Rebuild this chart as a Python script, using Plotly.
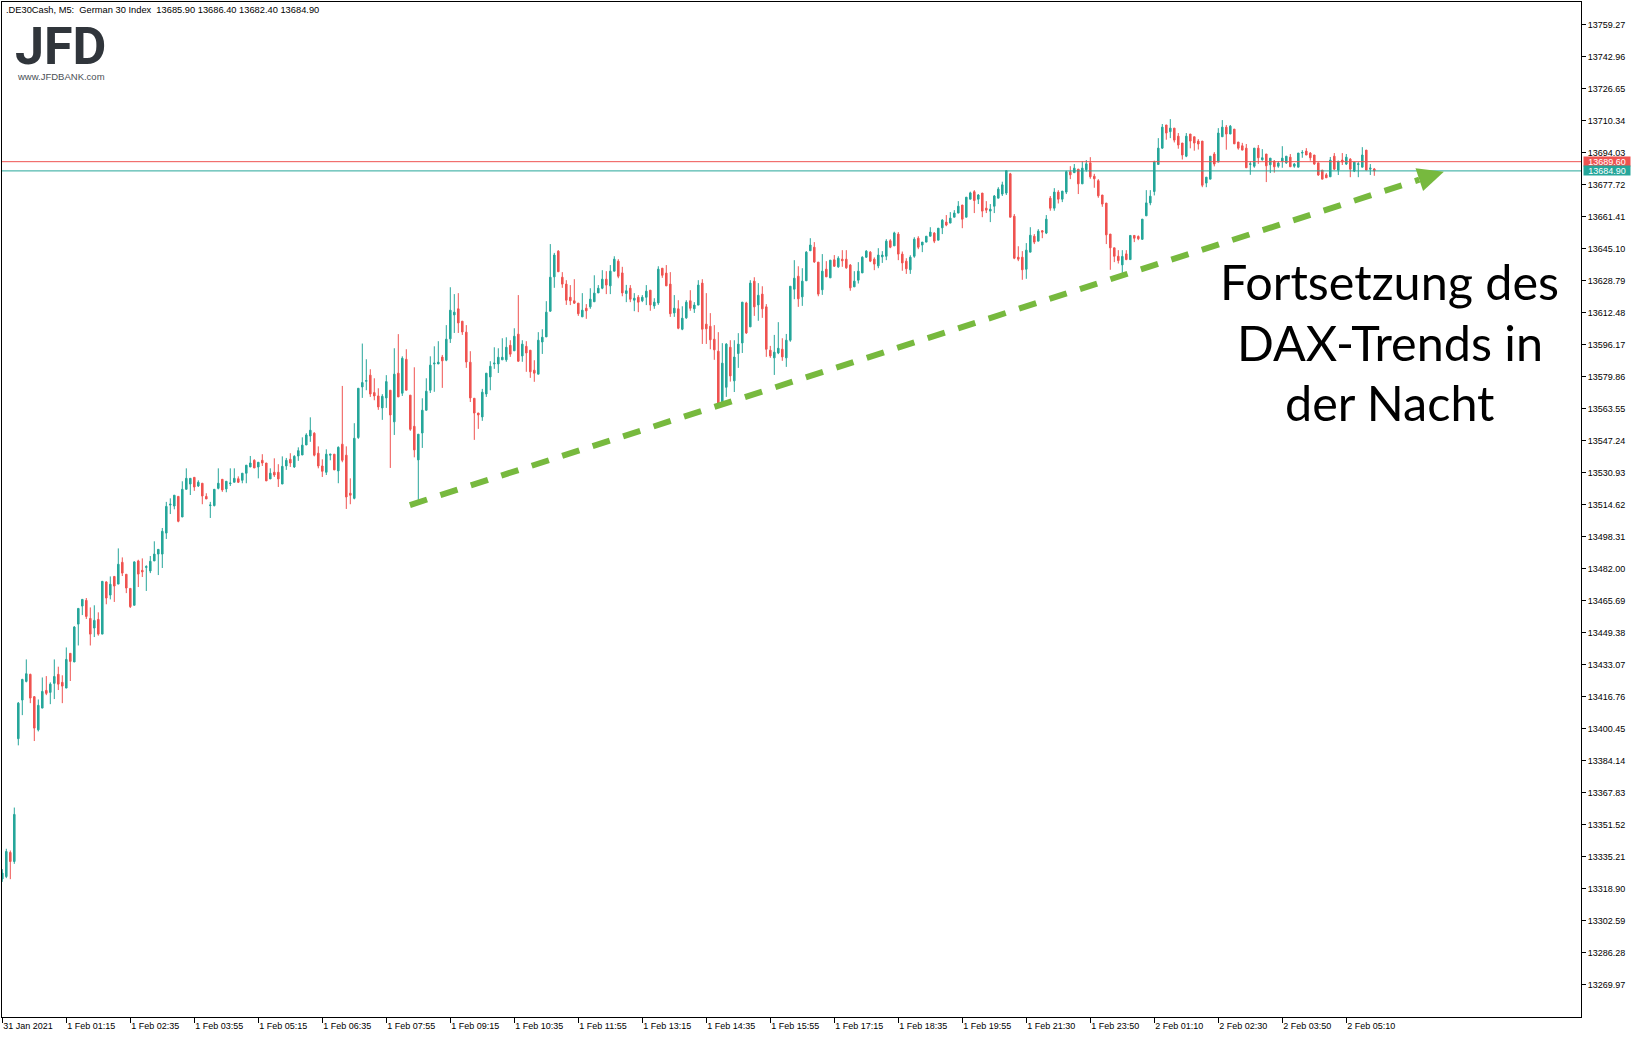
import plotly.graph_objects as go

# ---------------- data (M5 candles, .DE30Cash, 31 Jan 23:55 -> 2 Feb 05:40) ----------------
open_ = [
13324.0,13325.2,13337.5,13332.9,13395.5,13415.2,13424.7,13428.3,13416.9,13400.0,
13411.1,13420.1,13419.1,13423.7,13428.3,13424.2,13421.3,13439.0,13434.6,13453.9,
13463.1,13466.0,13456.8,13451.9,13456.3,13448.8,13475.4,13468.7,13478.2,13474.3,
13485.4,13479.3,13472.1,13463.5,13486.1,13481.3,13482.8,13481.0,13486.1,13489.6,
13489.6,13500.3,13514.6,13514.1,13519.0,13508.5,13522.6,13525.3,13528.7,13524.3,
13525.7,13519.0,13514.3,13514.3,13523.1,13527.7,13522.8,13525.5,13526.2,13528.0,
13527.2,13530.8,13534.0,13537.4,13534.0,13537.4,13536.0,13527.9,13531.3,13531.3,
13525.3,13534.5,13537.9,13534.0,13539.6,13540.1,13545.2,13549.8,13551.2,13541.0,
13534.5,13531.3,13540.0,13540.5,13532.0,13545.6,13540.0,13520.6,13518.0,13549.0,
13574.8,13577.7,13580.8,13571.9,13570.2,13564.1,13569.2,13573.1,13557.0,13581.8,
13571.6,13588.9,13570.6,13554.7,13537.6,13551.3,13562.9,13573.1,13586.5,13586.5,
13590.0,13588.4,13599.3,13611.5,13614.6,13608.3,13602.7,13587.4,13569.0,13561.5,
13559.5,13571.2,13579.9,13586.5,13586.5,13588.6,13588.6,13596.0,13593.2,13601.7,
13590.6,13595.5,13593.5,13583.3,13581.3,13597.7,13600.3,13613.4,13630.9,13644.0,
13630.7,13627.2,13620.5,13618.7,13617.5,13610.5,13614.9,13615.6,13618.2,13622.7,
13625.1,13629.7,13626.3,13633.8,13638.9,13632.9,13622.4,13625.1,13619.0,13620.5,
13618.7,13620.5,13624.1,13616.1,13617.6,13635.3,13632.8,13627.2,13612.5,13614.6,
13604.2,13610.0,13618.7,13614.6,13616.5,13627.7,13606.8,13605.7,13599.1,13593.0,
13567.2,13574.6,13595.0,13577.9,13591.8,13597.2,13617.6,13605.4,13628.7,13616.6,
13622.1,13615.6,13593.5,13589.6,13592.1,13594.0,13589.6,13598.6,13624.6,13631.2,
13620.7,13628.9,13644.2,13646.0,13638.4,13624.3,13634.8,13630.4,13639.6,13636.0,
13639.9,13639.9,13636.9,13625.8,13629.2,13632.9,13640.9,13643.5,13639.9,13636.5,
13641.1,13641.4,13649.3,13646.7,13652.7,13642.5,13638.9,13634.5,13641.4,13650.6,
13647.1,13648.6,13651.6,13653.2,13649.6,13655.9,13658.8,13658.3,13661.3,13663.4,
13667.5,13661.3,13670.5,13674.3,13670.5,13673.6,13665.9,13664.4,13666.9,13671.0,
13673.1,13673.6,13683.4,13661.8,13640.9,13640.9,13634.8,13643.5,13651.6,13649.1,
13654.4,13653.2,13671.0,13665.9,13674.1,13670.5,13674.1,13684.5,13684.0,13685.8,
13678.3,13685.5,13689.0,13682.2,13679.9,13672.6,13668.5,13652.7,13645.7,13641.4,
13637.0,13642.6,13639.7,13652.0,13651.5,13650.0,13662.0,13668.6,13674.4,13688.2,
13696.5,13708.3,13704.9,13706.7,13702.6,13699.1,13692.4,13703.7,13702.3,13700.1,
13700.1,13678.7,13680.7,13693.5,13689.4,13702.3,13707.2,13703.7,13706.2,13699.6,
13697.7,13696.5,13688.2,13687.3,13696.5,13690.6,13693.5,13688.0,13689.9,13687.3,
13689.9,13689.0,13691.9,13687.3,13686.8,13694.0,13695.0,13694.0,13693.0,13689.0,
13685.3,13682.9,13681.9,13692.4,13685.3,13690.4,13688.4,13690.9,13684.8,13688.2,
13686.8,13695.5,13685.8,13685.9]
high = [
13329.0,13339.4,13338.5,13360.4,13414.2,13426.0,13435.9,13428.6,13417.2,13415.5,
13426.7,13427.4,13424.2,13435.9,13432.2,13427.8,13442.0,13439.0,13452.9,13461.9,
13466.5,13467.2,13462.4,13463.5,13459.9,13475.7,13475.7,13478.2,13478.2,13492.5,
13487.9,13479.3,13472.1,13485.9,13486.7,13487.4,13483.9,13488.6,13496.1,13492.0,
13502.9,13516.2,13518.0,13519.6,13519.0,13526.7,13533.3,13528.2,13528.7,13527.2,
13525.7,13520.6,13516.2,13522.6,13533.3,13527.7,13526.7,13533.3,13533.3,13529.2,
13530.8,13534.9,13539.6,13537.9,13536.4,13540.5,13536.0,13533.3,13538.4,13535.4,
13539.4,13538.6,13541.0,13540.0,13544.0,13549.1,13551.2,13559.3,13551.7,13544.5,
13537.9,13543.0,13540.5,13540.5,13544.5,13575.3,13544.5,13528.2,13556.3,13574.1,
13596.9,13588.9,13583.8,13579.2,13574.1,13571.1,13580.8,13573.1,13594.5,13601.7,
13590.4,13594.0,13570.6,13584.8,13550.7,13569.0,13579.2,13590.4,13595.5,13598.1,
13591.1,13606.3,13625.6,13622.1,13622.6,13608.3,13606.3,13593.0,13569.0,13561.5,
13573.8,13581.8,13587.9,13595.0,13594.5,13599.6,13600.1,13598.6,13604.7,13621.6,
13598.6,13598.1,13593.5,13588.4,13602.7,13604.2,13618.5,13647.6,13643.1,13644.5,
13633.3,13629.2,13626.7,13629.7,13617.5,13622.6,13617.0,13625.1,13631.7,13626.7,
13634.3,13633.8,13636.9,13641.4,13639.9,13636.0,13626.8,13626.7,13622.6,13621.6,
13621.6,13626.7,13624.1,13620.0,13636.3,13635.3,13636.9,13633.3,13621.6,13619.0,
13615.9,13619.0,13624.1,13618.0,13629.2,13629.7,13622.6,13612.4,13606.3,13602.7,
13597.1,13597.1,13598.6,13598.6,13602.2,13618.0,13618.2,13629.2,13630.7,13627.7,
13626.1,13617.0,13595.7,13601.3,13607.8,13599.6,13601.8,13626.1,13639.4,13636.3,
13635.3,13644.0,13650.6,13648.6,13638.4,13642.5,13638.9,13639.4,13642.0,13641.4,
13644.5,13644.5,13637.4,13633.8,13638.4,13641.4,13644.5,13644.0,13640.8,13645.5,
13644.0,13650.1,13650.1,13653.9,13653.7,13643.8,13640.4,13641.9,13651.1,13651.6,
13648.6,13651.6,13656.2,13653.7,13655.7,13660.3,13662.4,13663.9,13664.9,13669.5,
13667.5,13671.5,13674.3,13675.1,13673.1,13673.6,13669.5,13668.0,13672.6,13676.6,
13679.4,13685.3,13683.9,13662.9,13646.5,13644.0,13648.1,13656.2,13652.7,13655.2,
13654.7,13662.4,13672.1,13676.1,13675.1,13674.6,13685.0,13687.3,13688.4,13685.8,
13689.9,13690.4,13691.9,13683.4,13680.7,13672.6,13668.5,13652.7,13645.7,13644.5,
13644.5,13644.5,13652.0,13652.0,13652.0,13660.3,13675.1,13675.1,13690.1,13701.6,
13708.8,13708.3,13711.3,13706.7,13704.2,13699.1,13704.2,13703.7,13702.3,13701.1,
13700.1,13681.7,13692.4,13694.5,13706.7,13710.8,13708.3,13708.3,13706.2,13699.6,
13699.2,13698.6,13689.9,13696.5,13698.1,13696.0,13693.5,13691.4,13690.4,13689.9,
13697.5,13692.4,13693.5,13688.9,13694.0,13695.5,13696.5,13694.5,13693.0,13689.0,
13685.3,13683.8,13692.0,13694.0,13689.9,13694.0,13693.5,13691.4,13689.4,13689.4,
13697.0,13695.5,13688.4,13686.4]
low = [
13322.5,13324.4,13323.9,13331.7,13392.1,13407.5,13424.2,13413.6,13394.3,13399.2,
13411.1,13417.7,13413.1,13415.7,13420.3,13413.6,13421.3,13424.9,13434.6,13443.0,
13458.5,13456.5,13443.0,13447.3,13448.0,13448.8,13464.0,13466.5,13465.2,13474.3,
13478.4,13469.7,13462.1,13463.5,13472.8,13477.9,13470.8,13479.9,13486.1,13478.9,
13482.5,13497.3,13510.0,13512.4,13505.8,13508.5,13522.6,13519.7,13521.8,13523.8,
13515.0,13517.7,13508.0,13513.9,13522.6,13521.3,13521.1,13524.3,13526.2,13525.8,
13525.7,13525.7,13534.0,13533.5,13528.2,13534.5,13526.9,13527.9,13528.9,13523.8,
13525.3,13532.5,13534.0,13533.5,13537.1,13540.1,13545.2,13546.8,13539.4,13533.3,
13528.9,13529.9,13537.4,13532.5,13525.7,13536.4,13512.6,13515.0,13517.5,13548.3,
13569.2,13573.1,13569.7,13568.0,13563.1,13558.0,13564.1,13533.5,13550.3,13569.7,
13570.2,13573.1,13552.4,13538.9,13516.5,13543.7,13562.9,13571.7,13572.3,13586.5,
13574.3,13587.9,13597.2,13602.3,13602.3,13601.3,13584.5,13567.1,13547.8,13553.4,
13557.5,13569.7,13573.1,13584.0,13581.9,13588.6,13587.6,13590.1,13593.2,13587.6,
13587.6,13582.5,13579.4,13577.4,13581.3,13591.6,13600.3,13613.1,13625.3,13633.5,
13625.3,13616.6,13616.5,13617.1,13611.0,13610.5,13609.5,13614.6,13618.2,13622.7,
13624.6,13622.1,13622.1,13633.8,13630.2,13621.0,13618.0,13618.0,13613.4,13612.9,
13618.0,13616.5,13613.6,13614.6,13616.6,13630.4,13626.3,13610.5,13610.5,13604.2,
13603.7,13609.5,13613.6,13612.5,13616.5,13596.7,13596.7,13594.0,13588.6,13566.3,
13566.6,13569.7,13577.5,13572.2,13584.5,13592.1,13601.8,13605.4,13611.0,13608.5,
13610.0,13590.1,13589.6,13580.9,13591.5,13588.1,13585.0,13597.8,13619.5,13615.6,
13616.1,13628.9,13644.2,13638.0,13621.0,13621.7,13630.9,13630.4,13636.0,13635.5,
13636.0,13635.0,13623.8,13625.8,13627.5,13632.9,13640.6,13638.4,13634.3,13635.3,
13638.0,13639.4,13645.5,13646.7,13639.4,13634.0,13632.4,13632.4,13640.6,13645.0,
13643.5,13648.6,13651.6,13648.1,13649.6,13652.7,13656.7,13658.3,13661.3,13663.4,
13655.7,13661.3,13670.5,13663.4,13668.0,13661.3,13663.4,13658.8,13663.4,13671.0,
13672.1,13672.6,13661.3,13639.9,13638.9,13629.4,13629.9,13643.5,13647.6,13649.1,
13650.6,13652.7,13664.6,13664.6,13668.3,13669.0,13673.1,13680.7,13684.0,13673.1,
13678.3,13684.5,13680.9,13676.3,13671.2,13666.6,13647.6,13634.5,13638.4,13637.7,
13632.9,13639.4,13639.7,13648.6,13649.6,13650.0,13662.0,13667.4,13672.4,13688.2,
13696.2,13700.8,13701.6,13699.4,13696.2,13690.7,13691.9,13696.4,13695.2,13695.8,
13676.6,13676.6,13680.7,13687.2,13689.4,13702.3,13695.7,13703.7,13698.6,13695.7,
13695.5,13686.5,13682.9,13686.5,13688.5,13690.1,13679.2,13683.8,13684.0,13686.5,
13686.5,13688.5,13687.0,13686.5,13686.8,13691.6,13693.0,13690.1,13688.0,13682.4,
13680.7,13681.4,13681.9,13685.3,13682.8,13687.9,13687.9,13681.7,13684.3,13681.7,
13686.8,13685.3,13682.8,13682.4]
close = [
13327.0,13338.0,13332.9,13356.9,13413.6,13425.7,13428.6,13416.2,13400.9,13412.5,
13419.6,13418.6,13423.3,13427.2,13423.3,13422.3,13435.9,13434.9,13452.4,13461.9,
13466.5,13457.8,13448.8,13455.8,13448.8,13475.7,13467.2,13474.2,13473.3,13484.4,
13479.9,13472.3,13462.8,13485.6,13479.4,13480.5,13483.2,13485.9,13489.6,13492.0,
13501.2,13513.9,13515.0,13519.6,13506.3,13522.6,13528.2,13528.2,13523.8,13526.2,
13519.2,13517.7,13514.6,13522.6,13525.7,13522.3,13526.7,13525.8,13528.2,13526.2,
13530.8,13534.9,13536.0,13533.5,13536.4,13536.0,13526.9,13530.8,13529.9,13527.9,
13534.3,13537.4,13536.0,13539.4,13542.3,13545.1,13550.3,13552.7,13540.0,13534.5,
13531.8,13540.5,13540.5,13532.5,13544.0,13537.4,13518.7,13519.6,13548.6,13574.1,
13577.0,13578.0,13571.2,13570.2,13564.6,13570.0,13577.5,13560.5,13581.3,13569.7,
13589.4,13573.1,13553.2,13542.7,13550.7,13562.9,13572.6,13585.9,13586.9,13587.4,
13588.1,13599.1,13613.9,13612.9,13607.4,13602.8,13587.5,13569.2,13561.5,13560.5,
13572.1,13581.8,13585.3,13586.9,13589.9,13589.9,13595.0,13591.5,13600.6,13587.9,
13596.6,13592.1,13582.5,13581.8,13598.6,13600.1,13612.9,13630.7,13642.0,13633.5,
13627.2,13619.0,13618.7,13617.5,13612.1,13613.9,13613.6,13619.5,13622.6,13625.1,
13629.7,13626.7,13633.8,13639.9,13631.2,13622.7,13623.8,13619.5,13620.0,13618.0,
13620.5,13623.6,13616.6,13618.0,13634.8,13631.7,13626.3,13612.1,13614.9,13604.7,
13609.8,13618.0,13614.9,13616.5,13626.7,13604.2,13604.4,13598.8,13593.7,13566.3,
13586.9,13596.6,13580.4,13590.0,13596.6,13618.0,13602.3,13627.7,13615.6,13621.5,
13614.6,13594.0,13590.6,13592.5,13594.5,13590.1,13598.6,13626.1,13630.2,13619.7,
13628.7,13643.5,13647.1,13638.5,13622.1,13633.8,13630.9,13639.4,13636.3,13640.4,
13639.1,13635.5,13625.3,13628.7,13633.8,13640.9,13644.0,13638.9,13637.4,13642.0,
13642.0,13649.1,13646.0,13653.3,13642.5,13638.0,13635.0,13640.9,13650.1,13646.0,
13648.6,13651.6,13653.7,13649.1,13655.7,13659.8,13657.3,13660.8,13663.4,13666.9,
13660.3,13671.5,13673.7,13669.8,13672.6,13664.4,13664.9,13665.4,13672.1,13675.6,
13677.8,13685.0,13661.3,13640.4,13639.9,13634.5,13644.5,13652.1,13648.6,13654.2,
13653.7,13660.3,13665.9,13674.1,13670.5,13674.6,13684.5,13682.9,13686.3,13678.3,
13686.3,13688.5,13681.9,13680.9,13672.2,13668.0,13652.3,13645.7,13641.4,13639.2,
13641.3,13639.7,13652.0,13650.6,13650.3,13660.3,13668.6,13672.0,13689.5,13696.5,
13707.2,13704.2,13706.7,13700.6,13698.1,13693.0,13702.6,13700.1,13699.1,13698.6,
13677.6,13681.7,13692.4,13688.4,13704.2,13707.2,13703.7,13707.7,13698.7,13696.5,
13695.5,13686.5,13688.5,13696.5,13691.6,13691.6,13687.5,13691.4,13687.0,13688.9,
13691.4,13692.4,13687.0,13688.4,13694.0,13694.3,13693.0,13691.6,13688.4,13682.8,
13680.7,13681.4,13690.4,13685.8,13689.9,13689.4,13691.9,13685.8,13689.4,13688.5,
13693.0,13685.3,13686.3,13684.9]

candle_index = list(range(len(open_)))

x_tick_index = list(range(0, 337, 16))
x_tick_labels = ["31 Jan 2021", "1 Feb 01:15", "1 Feb 02:35", "1 Feb 03:55", "1 Feb 05:15",
                 "1 Feb 06:35", "1 Feb 07:55", "1 Feb 09:15", "1 Feb 10:35", "1 Feb 11:55",
                 "1 Feb 13:15", "1 Feb 14:35", "1 Feb 15:55", "1 Feb 17:15", "1 Feb 18:35",
                 "1 Feb 19:55", "1 Feb 21:30", "1 Feb 23:50", "2 Feb 01:10", "2 Feb 02:30",
                 "2 Feb 03:50", "2 Feb 05:10"]
y_tick_values = [13269.97, 13286.28, 13302.59, 13318.90, 13335.21, 13351.52, 13367.83, 13384.14,
                 13400.45, 13416.76, 13433.07, 13449.38, 13465.69, 13482.00, 13498.31, 13514.62,
                 13530.93, 13547.24, 13563.55, 13579.86, 13596.17, 13612.48, 13628.79, 13645.10,
                 13661.41, 13677.72, 13694.03, 13710.34, 13726.65, 13742.96, 13759.27]
y_tick_labels = [f"{v:.2f}" for v in y_tick_values]

ask_price = 13689.60
bid_price = 13684.90
header = ".DE30Cash, M5:\u00a0\u00a0German 30 Index\u00a0\u00a013685.90 13686.40 13682.40 13684.90"
caption_lines = ["Fortsetzung des", "DAX-Trends in", "der Nacht"]

# trend line (candle index, price)
trend_start = (101.9, 13514.6)
trend_end = (354.25, 13680.4)
arrow_tip = (360.4, 13684.5)
arrow_base_a = (355.2, 13674.6)
arrow_base_b = (353.3, 13686.2)

UP = "#26a69a"
DOWN = "#ef5350"
ARROW = "#77b93e"
FONT = "Liberation Sans, Arial, sans-serif"

fig = go.Figure(go.Candlestick(
    x=candle_index, open=open_, high=high, low=low, close=close,
    increasing=dict(line=dict(color=UP, width=1), fillcolor=UP),
    decreasing=dict(line=dict(color=DOWN, width=1), fillcolor=DOWN),
    whiskerwidth=0, hoverinfo="skip", showlegend=False))

shapes = [
    dict(type="line", xref="paper", x0=0, x1=1, yref="y", y0=ask_price, y1=ask_price,
         line=dict(color=DOWN, width=1), layer="above"),
    dict(type="line", xref="paper", x0=0, x1=1, yref="y", y0=bid_price, y1=bid_price,
         line=dict(color=UP, width=1), layer="above"),
    dict(type="line", xref="x", yref="y", x0=trend_start[0], y0=trend_start[1],
         x1=trend_end[0], y1=trend_end[1], line=dict(color=ARROW, width=6, dash="18px,14px"),
         layer="above"),
    dict(type="path", xref="x", yref="y",
         path=f"M {arrow_tip[0]},{arrow_tip[1]} L {arrow_base_a[0]},{arrow_base_a[1]} "
              f"L {arrow_base_b[0]},{arrow_base_b[1]} Z",
         fillcolor=ARROW, line=dict(width=0), layer="above"),
]

annotations = [
    dict(xref="paper", yref="paper", x=0, y=1, xanchor="left", yanchor="top", xshift=2, yshift=-1,
         text=header, showarrow=False, font=dict(family=FONT, size=9.3, color="#000000")),
    dict(xref="paper", yref="paper", x=0, y=1, xanchor="left", yanchor="top", xshift=11, yshift=-12,
         text="<b>JFD</b>", showarrow=False,
         font=dict(family="Roboto, sans-serif", size=52, color="#30353b")),
    dict(xref="paper", yref="paper", x=0, y=1, xanchor="left", yanchor="top", xshift=13, yshift=-67,
         text="www.JFDBANK.com", showarrow=False,
         font=dict(family=FONT, size=9.5, color="#4a4f55")),
    dict(xref="paper", yref="y", x=1, y=ask_price, xanchor="left", yanchor="middle", xshift=2,
         text=f"{ask_price:.2f}", showarrow=False, bgcolor=DOWN, borderpad=0,
         width=46, height=9, font=dict(family=FONT, size=9, color="#ffffff")),
    dict(xref="paper", yref="y", x=1, y=bid_price, xanchor="left", yanchor="middle", xshift=2,
         text=f"{bid_price:.2f}", showarrow=False, bgcolor=UP, borderpad=0,
         width=46, height=9, font=dict(family=FONT, size=9, color="#ffffff")),
]
caption_y = [0.725, 0.665, 0.606]
for line, cy in zip(caption_lines, caption_y):
    annotations.append(dict(xref="paper", yref="paper", x=0.879, y=cy, xanchor="center",
                            yanchor="middle", text=line, showarrow=False,
                            font=dict(family="Lato, sans-serif", size=48.5, color="#000000")))

axis_common = dict(showline=True, mirror=True, linecolor="#000000", linewidth=1,
                   showgrid=False, zeroline=False, ticks="outside", tickcolor="#000000",
                   tickfont=dict(family=FONT, size=9, color="#000000"))

fig.update_layout(
    width=1639, height=1038, autosize=False,
    margin=dict(l=2, r=58, t=2, b=21, pad=0),
    paper_bgcolor="#ffffff", plot_bgcolor="#ffffff",
    boxgap=0.45, showlegend=False,
    shapes=shapes, annotations=annotations,
    xaxis=dict(range=[-0.075, 394.675], rangeslider=dict(visible=False),
               tickmode="array", tickvals=x_tick_index, ticktext=x_tick_labels,
               ticklen=5, ticklabelposition="outside right", **axis_common),
    yaxis=dict(side="right", range=[13253.64, 13770.99], tickmode="array",
               tickvals=y_tick_values, ticktext=y_tick_labels, ticklen=4, **axis_common),
)

fig.write_html("out.html", config={"displayModeBar": False},
               post_script="document.body.style.margin='0px';"
                           "document.body.style.overflow='hidden';")
